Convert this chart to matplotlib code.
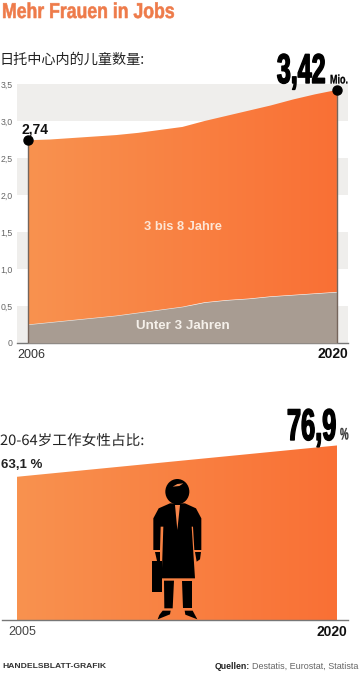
# -*- coding: utf-8 -*-
import numpy as np
import matplotlib
matplotlib.use('Agg')
import matplotlib.pyplot as plt
from matplotlib.colors import LinearSegmentedColormap
from matplotlib.patches import Ellipse, Polygon, Rectangle
from matplotlib.patheffects import AbstractPathEffect
from matplotlib.transforms import Affine2D

W, H = 362, 675

# Daten
years_kita = [2006, 2007, 2008, 2009, 2010, 2011, 2012, 2013,
              2014, 2015, 2016, 2017, 2018, 2019, 2020]
total_kita = [2.74, 2.75, 2.77, 2.79, 2.81, 2.84, 2.88, 2.92,
              3.00, 3.07, 3.14, 3.21, 3.29, 3.36, 3.42]
under3 = [0.25, 0.28, 0.31, 0.34, 0.37, 0.41, 0.45, 0.49,
          0.55, 0.58, 0.60, 0.63, 0.65, 0.67, 0.69]
y_ticks = [0, 0.5, 1.0, 1.5, 2.0, 2.5, 3.0, 3.5]
y_labels = ['0', '0,5', '1,0', '1,5', '2,0', '2,5', '3,0', '3,5']
bands = [(0, 0.5), (1.0, 1.5), (2.0, 2.5), (3.0, 3.5)]
years_women = [2005, 2020]
share_women = [63.1, 76.9]

ORANGE = LinearSegmentedColormap.from_list('o', ['#F8924F', '#FA7035'])
SANS = ['Liberation Sans', 'DejaVu Sans']
CJK = ['Noto Sans CJK SC', 'DejaVu Sans']


class Squeeze(AbstractPathEffect):
    # kein Condensed-Font installiert: Text bleibt Text, wird nur schmaler gezeichnet
    def __init__(self, sx, anchor='left', lw=0):
        super().__init__()
        self.sx, self.anchor, self.lw = sx, anchor, lw

    def draw_path(self, renderer, gc, tpath, affine, rgbFace=None):
        x0 = tpath.get_extents().x1 if self.anchor == 'right' else 0
        aff = Affine2D().translate(-x0, 0).scale(self.sx, 1).translate(x0, 0) + affine
        gc0 = renderer.new_gc()
        gc0.copy_properties(gc)
        if self.lw:
            gc0.set_foreground(rgbFace)
            gc0.set_linewidth(self.lw)
        renderer.draw_path(gc0, tpath, aff, rgbFace)
        gc0.restore()


def px_axes(fig, left, top, right, bottom):
    return fig.add_axes([left / W, 1 - bottom / H, (right - left) / W, (bottom - top) / H])


def gradient_fill(ax, x, y1, y2, top):
    poly = ax.fill_between(x, y1, y2, color='none', lw=0)
    grad = np.linspace(0, 1, 256).reshape(1, -1)
    im = ax.imshow(grad, extent=[x[0], x[-1], 0, top], aspect='auto', cmap=ORANGE, zorder=2)
    im.set_clip_path(poly.get_paths()[0], transform=ax.transData)


fig = plt.figure(figsize=(W / 100, H / 100), dpi=100, facecolor='white')

# oberes Diagramm
ax1 = px_axes(fig, 17, 84, 348, 343)
for lo, hi in bands:
    ax1.axhspan(lo, hi, color='#EFEEEC', lw=0, zorder=0)
gradient_fill(ax1, years_kita, under3, total_kita, 3.5)
ax1.fill_between(years_kita, 0, under3, color='#A89C92', lw=0, zorder=3)
ax1.vlines([years_kita[0], years_kita[-1]], 0, [total_kita[0], total_kita[-1]],
           color='#75655C', lw=1, zorder=4)
ax1.plot([years_kita[0], years_kita[-1]], [total_kita[0], total_kita[-1]], 'o',
         color='black', ms=6.5, zorder=5, clip_on=False)
ax1.set_xlim(2005.5, 2020.5)
ax1.set_ylim(0, 3.5)
ax1.set_xticks([])
ax1.set_yticks(y_ticks)
ax1.set_yticklabels(y_labels, fontsize=6.3, color='#666666', family=SANS)
ax1.tick_params(axis='y', length=0, pad=3)
for s in ['top', 'left', 'right']:
    ax1.spines[s].set_visible(False)
ax1.spines['bottom'].set_color('#777777')
ax1.spines['bottom'].set_linewidth(1)
ax1.set_zorder(1)

# unteres Diagramm
ax2 = px_axes(fig, 2, 445, 348, 620)
gradient_fill(ax2, years_women, [0, 0], share_women, 77)
ax2.set_xlim(2004.297, 2020.516)
ax2.set_ylim(0, 77.1)
ax2.set_xticks([])
ax2.set_yticks([])
for s in ['top', 'left', 'right']:
    ax2.spines[s].set_visible(False)
ax2.spines['bottom'].set_color('#777777')
ax2.spines['bottom'].set_linewidth(1)
ax2.set_zorder(1)

# Pixel-Ebene fuer Texte und die Figur
ov = fig.add_axes([0, 0, 1, 1], facecolor='none')
ov.set_xlim(0, W)
ov.set_ylim(H, 0)
ov.axis('off')
ov.set_zorder(5)

t = ov.text(2, 12.5, 'Mehr Frauen in Jobs', color='#EE7B4A', fontsize=15.5, fontweight='bold',
            family=SANS, va='center')
t.set_path_effects([Squeeze(0.82, lw=0.4)])
ov.text(0, 60, '日托中心内的儿童数量:', fontsize=10.2, family=CJK, va='center', color='#222222')
t = ov.text(0, 441, '20-64岁工作女性占比:', fontsize=10.2, family=CJK, va='center', color='#222222')
t.set_path_effects([Squeeze(1.035)])

ov.text(22, 129, '2,74', fontsize=10, fontweight='bold', family=SANS, va='center', color='#111111')
t = ov.text(326, 83, '3,42', fontsize=30, fontweight='bold', family=SANS, ha='right',
            va='baseline', color='black')
t.set_path_effects([Squeeze(0.6, 'right', lw=1.0)])
t = ov.text(330, 83.5, 'Mio.', fontsize=9, fontweight='bold', family=SANS, va='baseline', color='black')
t.set_path_effects([Squeeze(0.72, lw=0.2)])
t = ov.text(337, 440, '76,9', fontsize=32, fontweight='bold', family=SANS, ha='right',
            va='baseline', color='black')
t.set_path_effects([Squeeze(0.57, 'right', lw=1.0)])
t = ov.text(340, 439.5, '%', fontsize=12, fontweight='bold', family=SANS,
            va='baseline', color='#333333')
t.set_path_effects([Squeeze(0.58, lw=0.2)])
ov.text(1, 464.5, '63,1 %', fontsize=9.5, fontweight='bold', family=SANS, va='center', color='#222222')

ov.text(183, 227, '3 bis 8 Jahre', fontsize=9.3, fontweight='bold', family=SANS,
        ha='center', va='center', color='#FDE6D6')
ov.text(183, 326, 'Unter 3 Jahren', fontsize=9.6, fontweight='bold', family=SANS,
        ha='center', va='center', color='#F5F0EA')

ov.text(17, 354.5, '2006', fontsize=9, family=SANS, va='center', color='#333333')
ov.text(348, 354.5, '2020', fontsize=10, fontweight='bold', family=SANS, ha='right', va='center', color='#111111')
ov.text(8, 632, '2005', fontsize=9, family=SANS, va='center', color='#444444')
ov.text(347, 632, '2020', fontsize=10, fontweight='bold', family=SANS, ha='right', va='center', color='#111111')

ov.text(2, 666.5, 'HANDELSBLATT-GRAFIK', fontsize=6.1, fontweight='bold', family=SANS, va='center', color='#333333')
ov.text(215, 666.5, 'Quellen:', fontsize=6.3, fontweight='bold', family=SANS, va='center', color='#222222')
ov.text(252, 666.5, 'Destatis, Eurostat, Statista', fontsize=6.5, family=SANS, va='center', color='#666666')


# Figur (Piktogramm): Koordinaten aus dem Zoom, Versatz 120/470, Faktor 3
def zx(v):
    return 120 + v / 3


def zy(v):
    return 470 + v / 3


def shape(pts, color='black'):
    ov.add_patch(Polygon([(zx(a), zy(b)) for a, b in pts], closed=True, fc=color, lw=0))


ov.add_patch(Ellipse((zx(172), zy(65)), 72 / 3, 76 / 3, fc='black', lw=0))
shape([(158, 50), (172, 42), (190, 40), (178, 48)], '#F08A50')
shape([(150, 100), (195, 100), (228, 115), (244, 145), (244, 240), (223, 240), (219, 170),
       (215, 170), (225, 325), (125, 325), (130, 170), (122, 170), (120, 240), (100, 240),
       (100, 145), (116, 115)])
shape([(165, 105), (180, 105), (172, 180)], '#F8854A')
shape([(106, 246), (120, 246), (120, 272), (110, 272)])
shape([(225, 246), (243, 246), (240, 268), (230, 275)])
ov.add_patch(Rectangle((zx(97), zy(272)), 28 / 3, 93 / 3, fc='black', lw=0))
shape([(132, 332), (162, 332), (158, 415), (133, 415)])
shape([(185, 332), (215, 332), (215, 415), (189, 415)])
shape([(128, 422), (152, 422), (150, 433), (113, 448), (118, 435)])
shape([(194, 422), (218, 422), (232, 448), (196, 434)])

fig.savefig('out.png', dpi=100)
